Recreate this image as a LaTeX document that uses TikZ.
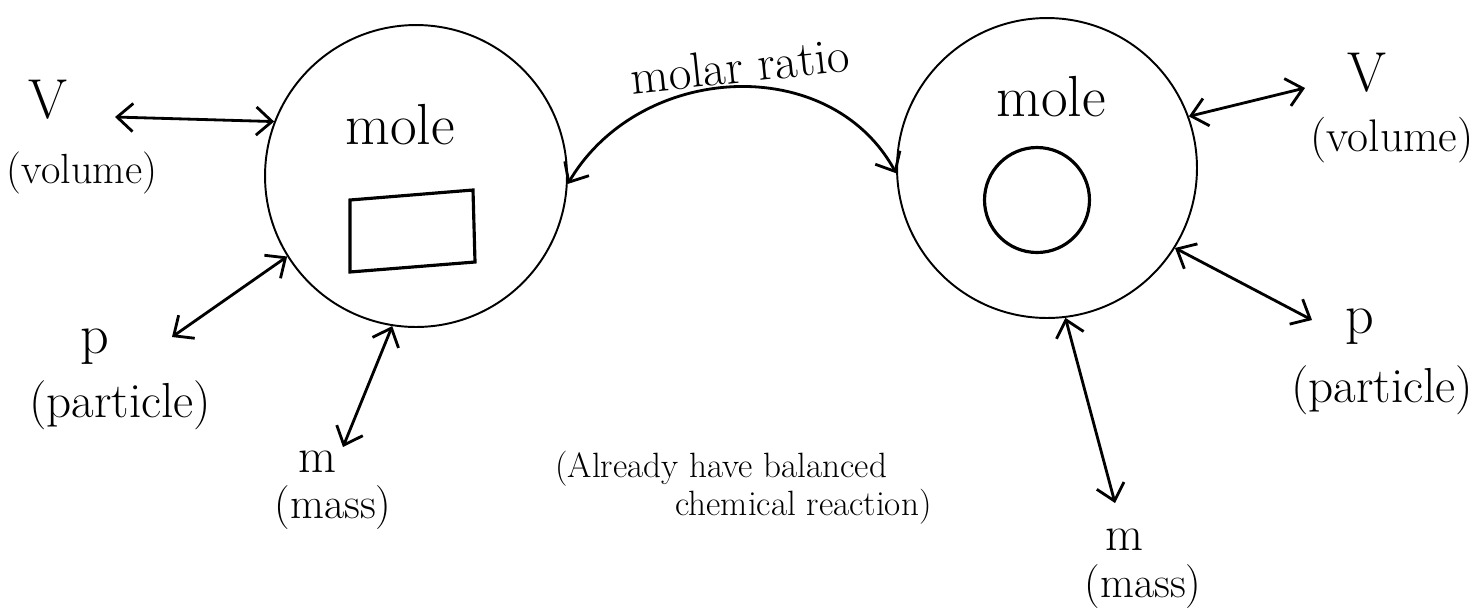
\documentclass[tikz,border=0pt]{standalone}
\usetikzlibrary{arrows.meta}
\begin{document}
\begin{tikzpicture}[x=0.02cm,y=-0.02cm,
  paren/.style={inner sep=0pt, font=\fontsize{24}{28}\selectfont},
  sym/.style={inner sep=0pt, font=\fontsize{32}{36}\selectfont},
  word/.style={inner sep=0pt, font=\fontsize{33}{38}\selectfont},
  note/.style={inner sep=0pt, font=\fontsize{20}{24}\selectfont},
  molec/.style={circle, draw, line width=1.1pt, inner sep=0pt},
  conn/.style={line width=1.6pt, {Straight Barb[length=9pt,width=16pt,line width=1.6pt]}-{Straight Barb[length=9pt,width=16pt,line width=1.6pt]}},
]
\useasboundingbox (0,0) rectangle (1477,613);

% circles
\node[molec, minimum size=6.04cm] (L) at (416,176) {};
\node[molec, minimum size=6.0cm] (R) at (1047,168) {};

\node[word] (moleL) at (400,125) {mole};
\node[word] (moleR) at (1051,97) {mole};
\draw[line width=1.8pt] (350,200) -- (473,190) -- (475,262) -- (350,272) -- cycle;
\node[circle, draw, line width=1.8pt, minimum size=2.1cm, inner sep=0pt] (inner) at (1037,200) {};

% left labels
\node[sym] (VL) at (48,100) {V};
\node[paren] (volL) at (82,173) {(volume)};
\coordinate (vlend) at (115,117);
\node[sym] (pL) at (95,347) {p};
\node[paren, font=\fontsize{28}{32}\selectfont] (parL) at (120,405) {(particle)};
\coordinate (plend) at (172,337);
\node[sym, font=\fontsize{28}{32}\selectfont] (mL) at (317,462) {m};
\node[paren, font=\fontsize{25}{30}\selectfont] (massL) at (333,508) {(mass)};
\coordinate (mlend) at (343,447);

% right labels
\node[sym] (VR) at (1367,73) {V};
\node[paren, font=\fontsize{26}{30}\selectfont] (volR) at (1392,140) {(volume)};
\coordinate (vrend) at (1305,88);
\node[sym] (pR) at (1360,327) {p};
\node[paren, font=\fontsize{28}{32}\selectfont] (parR) at (1382,390) {(particle)};
\coordinate (prend) at (1312,320);
\node[sym, font=\fontsize{28}{32}\selectfont] (mR) at (1124,540) {m};
\node[paren, font=\fontsize{25}{30}\selectfont] (massR) at (1143,587) {(mass)};
\coordinate (mrend) at (1115,503);

% connectors
\draw[conn] (vlend) -- (L.159);
\draw[conn] (plend) -- (L.212);
\draw[conn] (mlend) -- (L.261);
\draw[conn] (R.20) -- (vrend);
\draw[conn] (R.-32) -- (prend);
\draw[conn] (R.-83) -- (mrend);
\draw[conn] (L.-3) .. controls (640,62) and (830,52) .. (R.182);

\node[inner sep=0pt, font=\fontsize{28}{32}\selectfont, rotate=6] (ratio) at (740,66) {molar ratio};

\node[note, anchor=base west] (note1) at (555,477) {(Already have balanced};
\node[note, anchor=base west] (note2) at (675,515) {chemical reaction)};
\end{tikzpicture}
\end{document}
